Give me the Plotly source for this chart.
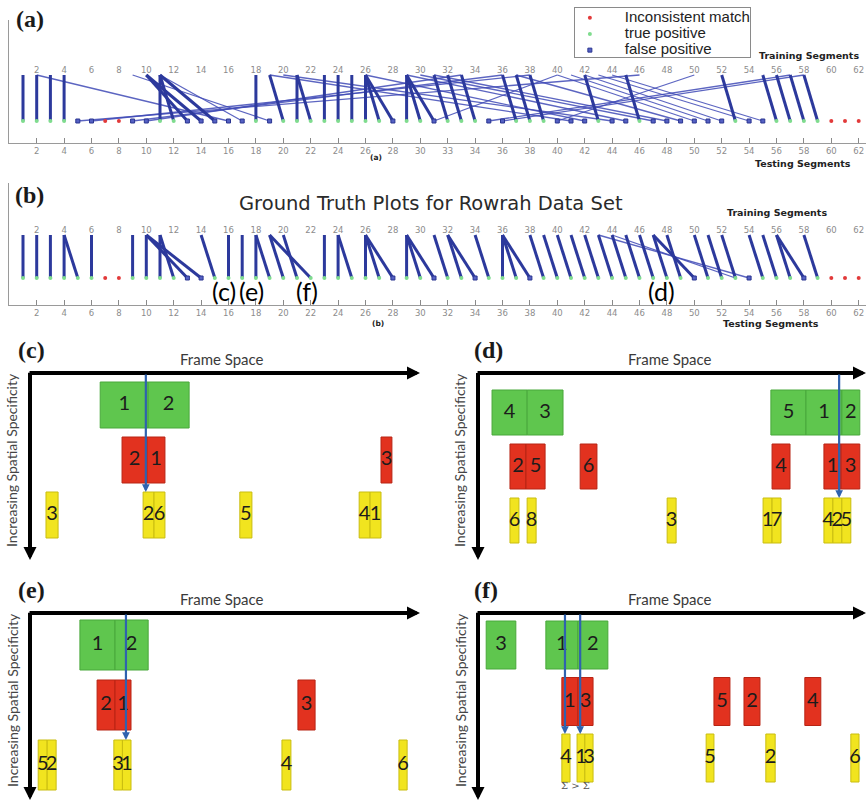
import plotly.graph_objects as go

W, H = 866, 803

# ---------------------------------------------------------------- data
TICK_VALS = [2, 4, 6, 8, 10, 12, 14, 16, 18, 20, 22, 24, 26, 28, 30, 32,
             34, 36, 38, 40, 42, 44, 46, 48, 50, 52, 54, 56, 58, 60, 62]
TICK_TEXT_A = ["2", "4", "6", "8", "10", "12", "14", "16", "18", "20", "22",
               "24", "26", "28", "30", "33", "34", "36", "38", "40", "42",
               "44", "46", "48", "50", "52", "54", "56", "58", "60", "62"]
TICK_TEXT_B = ["2", "4", "6", "8", "10", "12", "14", "16", "18", "20", "22",
               "24", "26", "28", "30", "32", "34", "36", "38", "40", "42",
               "44", "46", "48", "50", "52", "54", "56", "58", "60", "62"]

# (training segment, testing segment) matches found by the matcher
A_STRONG_LINKS = [(1, 1), (2, 2), (3, 3), (4, 4), (10, 13), (10, 14), (11, 11),
                  (11, 12), (11, 15), (18, 18), (19, 20), (21, 21), (21, 22),
                  (23, 23), (24, 24), (25, 25), (26, 26), (26, 27), (26, 28),
                  (29, 29), (29, 30), (29, 31), (31, 32), (32, 33), (33, 34),
                  (36, 37), (37, 38), (38, 39), (42, 43), (45, 46), (52, 53),
                  (55, 56), (56, 57), (57, 58), (58, 59)]
A_WEAK_LINKS = [(2, 16), (9, 19), (11, 17), (46, 5), (38, 6), (36, 9), (33, 10),
                (19, 41), (20, 44), (26, 42), (29, 45), (30, 47), (31, 48),
                (37, 49), (40, 50), (41, 51), (42, 52), (43, 54), (44, 55),
                (50, 40), (57, 35), (58, 36), (40, 31)]
A_TRUE_POS = [1, 2, 3, 4, 11, 12, 18, 20, 21, 22, 23, 24, 25, 26, 27, 29, 30,
              32, 33, 34, 37, 38, 39, 43, 46, 53, 56, 57, 58, 59]
A_FALSE_POS = [5, 6, 9, 10, 13, 14, 15, 16, 17, 19, 28, 31, 35, 36, 40, 41,
               42, 44, 45, 47, 48, 49, 50, 51, 52, 54, 55]
A_INCONSISTENT = [7, 8, 60, 61, 62]

# ground truth matches
B_STRONG_LINKS = [(1, 1), (2, 2), (3, 3), (4, 4), (4, 5), (6, 6), (9, 9),
                  (10, 10), (10, 13), (10, 14), (11, 11), (11, 12), (14, 15),
                  (16, 16), (17, 17), (18, 18), (18, 19), (19, 20), (19, 22),
                  (20, 21), (23, 23), (24, 24), (24, 25), (26, 26), (26, 27),
                  (26, 28), (29, 29), (29, 30), (29, 31), (31, 32), (32, 33),
                  (32, 34), (34, 35), (36, 36), (36, 37), (36, 38), (38, 39),
                  (39, 40), (40, 41), (41, 42), (42, 43), (43, 44), (44, 45),
                  (45, 46), (46, 47), (47, 48), (47, 50), (48, 49), (50, 51),
                  (51, 52), (52, 53), (54, 55), (55, 56), (56, 57), (56, 58),
                  (58, 59)]
B_WEAK_LINKS = [(43, 54), (44, 53)]
B_TRUE_POS = [1, 2, 3, 4, 5, 6, 9, 10, 11, 12, 15, 16, 17, 18, 19, 20, 21,
              22, 23, 24, 25, 26, 27, 29, 30, 32, 33, 35, 36, 37, 39, 40, 41,
              42, 43, 44, 45, 46, 47, 48, 49, 51, 52, 53, 55, 56, 57, 59]
B_FALSE_POS = [13, 14, 28, 31, 34, 38, 50, 54, 58]
B_INCONSISTENT = [7, 8, 60, 61, 62]

B_CALLOUTS = [("(c)", 15.7), ("(e)", 17.7), ("(f)", 21.7), ("(d)", 47.6)]

LEGEND_NAMES = ["Inconsistent match", "true positive", "false positive"]

# frame-space blocks: (start, end, label); rows 1 = green, 2 = red, 3 = yellow
C_GREEN = [(18.0, 30.3, "1"), (30.3, 40.8, "2")]
C_RED = [(23.6, 30.0, "2"), (30.0, 34.6, "1"), (90.0, 92.8, "3")]
C_YELLOW = [(4.1, 7.2, "3"), (29.0, 31.8, "2"), (31.8, 34.6, "6"),
            (53.8, 56.9, "5"), (84.4, 87.2, "4"), (87.2, 90.0, "1")]
C_LINKS = [29.7]

D_GREEN = [(3.6, 12.6, "4"), (12.6, 21.8, "3"), (75.1, 84.1, "5"),
           (84.1, 93.3, "1"), (93.3, 97.9, "2")]
D_RED = [(8.2, 12.3, "2"), (12.3, 17.2, "5"), (26.2, 30.5, "6"),
         (75.4, 80.0, "4"), (88.7, 93.1, "1"), (93.1, 97.9, "3")]
D_YELLOW = [(8.2, 10.5, "6"), (12.6, 14.9, "8"), (48.5, 50.8, "3"),
            (73.1, 75.4, "1"), (75.4, 77.7, "7"), (88.7, 91.0, "4"),
            (91.0, 93.3, "2"), (93.3, 95.6, "5")]
D_LINKS = [92.6]

E_GREEN = [(12.8, 21.8, "1"), (21.8, 30.3, "2")]
E_RED = [(17.2, 21.8, "2"), (21.8, 25.9, "1"), (68.7, 73.1, "3")]
E_YELLOW = [(2.1, 4.4, "5"), (4.4, 6.7, "2"), (21.5, 23.7, "3"),
            (23.7, 25.9, "1"), (64.6, 66.9, "4"), (94.6, 96.7, "6")]
E_LINKS = [24.6]

F_GREEN = [(2.1, 9.7, "3"), (17.4, 25.6, "1"), (25.6, 33.3, "2")]
F_RED = [(21.5, 25.6, "1"), (25.6, 29.5, "3"), (60.5, 64.6, "5"),
         (68.2, 72.3, "2"), (83.8, 87.9, "4")]
F_YELLOW = [(21.5, 23.6, "4"), (25.4, 27.4, "1"), (27.4, 29.5, "3"),
            (58.5, 60.5, "5"), (73.8, 76.2, "2"), (95.6, 97.7, "6")]
F_LINKS = [22.3, 26.2]

# ---------------------------------------------------------------- helpers
def fx(px):
    return px / W


def fy(py):
    return 1 - py / H


TRAIN_LEVEL, TEST_LEVEL = 1, 0
SEG_X0, SEG_PX = 9.3, 13.7
SEG_RANGE = [0, (W - SEG_X0) / SEG_PX]

GRAY_TXT = "#8c8c8c"
STRONG = "#2c399c"
WEAK = "rgba(64,74,182,0.85)"
MARK_STYLE = [dict(color="#e23a3a", size=4),
              dict(color="#7fdc8e", size=4),
              dict(color="#5561c4", size=4, symbol="square",
                   line=dict(color="#2a3590", width=1))]


def links_xy(links):
    xs, ys = [], []
    for train, test in links:
        xs += [train, test, None]
        ys += [TRAIN_LEVEL, TEST_LEVEL, None]
    return xs, ys


fig = go.Figure()
layout = {}
annotations = []


def segment_panel(n, top_px, axis_px, train_px, test_px, strong, weak,
                  groups, ticktext):
    xa, ya = ("x", "y") if n == 1 else (f"x{n}", f"y{n}")
    pitch = test_px - train_px

    def val(py):
        return (test_px - py) / pitch

    layout["xaxis" if n == 1 else f"xaxis{n}"] = dict(
        domain=[fx(SEG_X0), 1], range=SEG_RANGE, anchor=ya,
        showgrid=False, zeroline=False, showline=True, linecolor="#9a9a9a",
        linewidth=1, ticks="inside", ticklen=5, tickcolor="#8a8a8a",
        tickvals=TICK_VALS, ticktext=ticktext,
        tickfont=dict(family="DejaVu Sans", size=8.5, color=GRAY_TXT))
    layout["yaxis" if n == 1 else f"yaxis{n}"] = dict(
        domain=[fy(axis_px), fy(top_px)], range=[val(axis_px), val(top_px)],
        anchor=xa, showgrid=False, zeroline=False, showline=True,
        linecolor="#9a9a9a", linewidth=1, ticks="", showticklabels=False)

    wx, wy = links_xy(weak)
    fig.add_trace(go.Scatter(x=wx, y=wy, mode="lines", xaxis=xa, yaxis=ya,
                             line=dict(color=WEAK, width=1.3),
                             hoverinfo="skip", showlegend=False))
    sx, sy = links_xy(strong)
    fig.add_trace(go.Scatter(x=sx, y=sy, mode="lines", xaxis=xa, yaxis=ya,
                             line=dict(color=STRONG, width=3),
                             hoverinfo="skip", showlegend=False))
    fig.add_trace(go.Scatter(x=TICK_VALS, y=[TRAIN_LEVEL] * len(TICK_VALS),
                             text=TICK_TEXT_B, mode="text",
                             textposition="top center", xaxis=xa, yaxis=ya,
                             textfont=dict(family="DejaVu Sans", size=8.5,
                                           color=GRAY_TXT),
                             hoverinfo="skip", showlegend=False))
    for segs, style in zip(groups, MARK_STYLE):
        fig.add_trace(go.Scatter(x=segs, y=[TEST_LEVEL] * len(segs),
                                 mode="markers", xaxis=xa, yaxis=ya,
                                 marker=style, hoverinfo="skip",
                                 showlegend=False))


segment_panel(1, 20, 143, 75, 121, A_STRONG_LINKS, A_WEAK_LINKS,
              [A_INCONSISTENT, A_TRUE_POS, A_FALSE_POS], TICK_TEXT_A)
segment_panel(2, 183, 305, 235, 278, B_STRONG_LINKS, B_WEAK_LINKS,
              [B_INCONSISTENT, B_TRUE_POS, B_FALSE_POS], TICK_TEXT_B)

# legend box for panel (a), drawn on its own small axis pair
layout["xaxis7"] = dict(domain=[fx(575), fx(750)], range=[0, 1], anchor="y7",
                        showgrid=False, zeroline=False, showticklabels=False,
                        ticks="", showline=True, mirror=True,
                        linecolor="#8a8a8a", linewidth=1)
layout["yaxis7"] = dict(domain=[fy(57), fy(8)], range=[0, 1], anchor="x7",
                        showgrid=False, zeroline=False, showticklabels=False,
                        ticks="", showline=True, mirror=True,
                        linecolor="#8a8a8a", linewidth=1)
legend_rows = [0.80, 0.47, 0.14]
for name, row, style in zip(LEGEND_NAMES, legend_rows, MARK_STYLE):
    fig.add_trace(go.Scatter(x=[0.085], y=[row], mode="markers",
                             marker=style, xaxis="x7", yaxis="y7",
                             hoverinfo="skip", showlegend=False))
fig.add_trace(go.Scatter(x=[0.285] * 3, y=legend_rows, text=LEGEND_NAMES,
                         mode="text", textposition="middle right",
                         xaxis="x7", yaxis="y7", cliponaxis=False,
                         textfont=dict(family="Liberation Sans", size=15,
                                       color="#222"),
                         hoverinfo="skip", showlegend=False))


def text_note(text, px, py, size, family="Liberation Sans", color="#222",
              angle=0, bold=False):
    annotations.append(dict(
        text=f"<b>{text}</b>" if bold else text, x=fx(px), y=fy(py),
        xref="paper", yref="paper", xanchor="center", yanchor="middle",
        showarrow=False, textangle=angle,
        font=dict(family=family, size=size, color=color)))


# segment panel texts
text_note("(a)", 30, 19, 24, family="Liberation Serif", color="#1a1a1a", bold=True)
text_note("(b)", 30, 195, 24, family="Liberation Serif", color="#1a1a1a", bold=True)
text_note("Training Segments", 809, 55, 9.5, family="DejaVu Sans", bold=True)
text_note("Testing Segments", 803, 163, 9.5, family="DejaVu Sans", bold=True)
text_note("(a)", 376, 157, 7.5, family="DejaVu Sans", bold=True)
text_note("Ground Truth Plots for Rowrah Data Set", 431, 203, 19.5,
          family="DejaVu Sans", color="#2a2a2a")
text_note("Training Segments", 777, 213, 9.5, family="DejaVu Sans", bold=True)
text_note("Testing Segments", 771, 323, 9.5, family="DejaVu Sans", bold=True)
text_note("(b)", 378, 323, 7.5, family="DejaVu Sans", bold=True)
for label, seg in B_CALLOUTS:
    annotations.append(dict(text=label, x=seg, y=fy(291), xref="x2",
                            yref="paper", showarrow=False, xanchor="center",
                            yanchor="middle",
                            font=dict(family="Lato", size=25, color="#000")))

# ---------------------------------------------------------------- diagrams
FILL = {1: ("#5fc64e", "#49a83b"), 2: ("#e2321f", "#b82414"),
        3: ("#f1e41f", "#c9bd10")}
FRAME_PX = 3.9


def diagram(n, letter, x0, arrow_px, row1_px, pitch, block_px, top_px,
            bottom_px, tip_px, rows, links, letter_px, text_y_px):
    xa, ya = f"x{n}", f"y{n}"

    def val(py):
        return 1 + (py - row1_px) / pitch

    x_hi = min(W, x0 + 100 * FRAME_PX)
    layout[f"xaxis{n}"] = dict(domain=[fx(x0), fx(x_hi)],
                               range=[0, (x_hi - x0) / FRAME_PX], anchor=ya,
                               visible=False)
    layout[f"yaxis{n}"] = dict(domain=[fy(bottom_px), fy(top_px)],
                               range=[val(bottom_px), val(top_px)],
                               anchor=xa, visible=False)
    bar_w = block_px / pitch
    for row, blocks in rows:
        fill, edge = FILL[row]
        fig.add_trace(go.Bar(
            orientation="h", base=[b[0] for b in blocks],
            x=[b[1] - b[0] for b in blocks], y=[row] * len(blocks),
            width=bar_w, xaxis=xa, yaxis=ya,
            marker=dict(color=fill, line=dict(color=edge, width=1)),
            hoverinfo="skip", showlegend=False))
        fig.add_trace(go.Scatter(
            x=[(b[0] + b[1]) / 2 for b in blocks], y=[row] * len(blocks),
            text=[b[2] for b in blocks], mode="text", xaxis=xa, yaxis=ya,
            textfont=dict(family="Lato", size=20, color="#1c1c1c"),
            hoverinfo="skip", showlegend=False, cliponaxis=False))

    a_val = val(arrow_px)
    x_end = (x_hi - x0) / FRAME_PX
    arrow = dict(showarrow=True, text="", arrowhead=2, arrowsize=0.65,
                 arrowwidth=4, arrowcolor="#000", xref=xa, yref=ya,
                 axref=xa, ayref=ya, standoff=0)
    annotations.append(dict(arrow, x=x_end, y=a_val, ax=-0.5, ay=a_val))
    annotations.append(dict(arrow, x=0, y=val(tip_px), ax=0, ay=a_val - 0.03))
    yellow_top = 3 - bar_w / 2
    for lx in links:
        annotations.append(dict(showarrow=True, text="", arrowhead=2,
                                arrowsize=0.7, arrowwidth=2.2,
                                arrowcolor="#2f62ae", xref=xa, yref=ya,
                                axref=xa, ayref=ya, standoff=0,
                                x=lx, y=yellow_top, ax=lx, ay=a_val))

    text_note(f"({letter})", letter_px, arrow_px - 23, 24,
              family="Liberation Serif", color="#1a1a1a", bold=True)
    text_note("Frame Space", x0 + 192, arrow_px - 14, 15, family="Lato",
              color="#3a3a3a")
    text_note("Increasing Spatial Specificity", x0 - 18, text_y_px, 14,
              family="Lato", color="#454545", angle=-90)


diagram(3, "c", 30, 373, 405, 55, 46, 345, 565, 560,
        [(1, C_GREEN), (2, C_RED), (3, C_YELLOW)], C_LINKS, 31, 460)
diagram(4, "d", 478, 373, 412.5, 54, 45, 345, 565, 560,
        [(1, D_GREEN), (2, D_RED), (3, D_YELLOW)], D_LINKS, 488, 460)
diagram(5, "e", 30, 613, 645, 60, 50, 585, 803, 800,
        [(1, E_GREEN), (2, E_RED), (3, E_YELLOW)], E_LINKS, 31, 700)
diagram(6, "f", 478, 613, 645, 56.5, 48, 585, 803, 800,
        [(1, F_GREEN), (2, F_RED), (3, F_YELLOW)], F_LINKS, 486, 700)

annotations.append(dict(text="Σ > Σ", x=25.1, y=fy(793), xref="x6",
                        yref="paper", showarrow=False,
                        font=dict(family="DejaVu Serif", size=10,
                                  color="#555")))

fig.update_layout(
    width=W, height=H, margin=dict(l=0, r=0, t=0, b=0),
    template="none", paper_bgcolor="white", plot_bgcolor="white",
    barmode="overlay", annotations=annotations, showlegend=False,
    **layout)

fig.write_html("out.html")
